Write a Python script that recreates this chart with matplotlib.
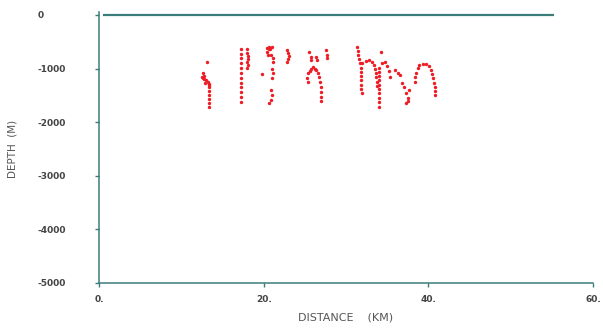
import matplotlib
matplotlib.use("Agg")
import matplotlib.pyplot as plt

# ---- data (distance km, depth m) ----
dist_a = [13.1, 12.6, 12.5, 12.6, 12.8, 13.0, 13.2, 13.4, 13.3, 13.4, 13.4, 13.4, 13.4, 13.4, 13.4, 12.7, 12.9]
depth_a = [-870, -1090, -1150, -1180, -1200, -1220, -1250, -1280, -1310, -1350, -1420, -1490, -1570, -1640, -1720, -1130, -1260]

dist_b = [17.3, 17.3, 17.3, 17.3, 17.3, 17.3, 17.3, 17.3, 17.3, 17.3, 17.3, 17.3,
          18.0, 18.0, 18.1, 18.1, 18.0, 18.1, 18.0]
depth_b = [-630, -720, -810, -900, -990, -1080, -1170, -1260, -1350, -1440, -1530, -1620,
           -640, -700, -760, -820, -880, -940, -990]

dist_c = [20.4, 20.7, 21.0, 20.4, 20.5, 20.9, 21.1, 21.1, 19.8, 21.0, 21.1, 21.0, 20.9, 21.0, 20.9, 20.7, 20.6, 20.8,
          22.8, 23.0, 23.1, 23.0, 22.8]
depth_c = [-620, -600, -600, -690, -750, -750, -810, -870, -1100, -1000, -1090, -1180, -1400, -1490, -1590, -1650, -640, -630,
           -650, -700, -770, -820, -870]

dist_d = [25.45, 25.7, 25.8, 26.3, 26.5, 27.55, 27.75, 27.7,
          25.8, 26.0, 26.2, 26.4, 26.6,
          25.6, 25.4, 25.3, 25.4,
          26.75, 26.8, 26.95, 26.95, 27.0, 27.0]
depth_d = [-690, -780, -840, -780, -840, -650, -750, -810,
           -1000, -970, -1000, -1030, -1090,
           -1050, -1090, -1180, -1250,
           -1150, -1250, -1340, -1430, -1530, -1600]

dist_e = [31.3, 31.4, 31.5, 31.6, 31.7, 31.8, 31.8, 31.8, 31.8, 31.8, 31.8, 31.9,
          32.0, 32.4, 32.8, 33.2, 33.4, 33.5, 33.6, 33.7, 33.8, 33.8,
          34.3,
          34.0, 34.0, 34.0, 34.0, 34.0, 34.0, 34.0, 34.0, 34.0, 34.0,
          34.4, 34.7, 35.0, 35.2, 35.3, 36.0, 36.3, 36.5,
          36.8, 37.0, 37.3, 37.6, 37.5, 37.3, 37.5,
          38.4, 38.4, 38.5, 38.7, 38.9, 39.3, 39.7, 40.1, 40.3,
          40.5, 40.6, 40.7, 40.8, 40.8, 40.8]
depth_e = [-600, -680, -750, -820, -900, -980, -1060, -1140, -1220, -1300, -1380, -1460,
           -900, -850, -840, -870, -935, -1000, -1080, -1160, -1250, -1330,
           -690,
           -980, -1060, -1140, -1220, -1300, -1380, -1460, -1540, -1630, -1720,
           -900, -880, -950, -1050, -1150, -1030, -1080, -1120,
           -1270, -1340, -1460, -1400, -1550, -1640, -1600,
           -1150, -1250, -1090, -990, -940, -920, -920, -950, -1030,
           -1100, -1180, -1260, -1340, -1420, -1500]

surface_x = [0.5, 55.3]
surface_y = [0, 0]

xticks = [0, 20, 40, 60]
xtick_labels = ["0.", "20.", "40.", "60."]
yticks = [0, -1000, -2000, -3000, -4000, -5000]
ytick_labels = ["0", "-1000", "-2000", "-3000", "-4000", "-5000"]

teal = "#3b7d7a"
red = "#ee1c24"

fig = plt.figure(figsize=(6.03, 3.30), dpi=100)
ax = fig.add_axes([99 / 603, 1 - 283 / 330, (593 - 99) / 603, (283 - 15) / 330])

ax.plot(surface_x, surface_y, color=teal, lw=1.6, clip_on=False, solid_capstyle="butt")

xs = dist_a + dist_b + dist_c + dist_d + dist_e
ys = depth_a + depth_b + depth_c + depth_d + depth_e
ax.scatter(xs, ys, s=6, color=red, linewidths=0, zorder=3)

ax.set_xlim(0, 60)
ax.set_ylim(-5000, 0)
for s in ["top", "right"]:
    ax.spines[s].set_visible(False)
for s in ["left", "bottom"]:
    ax.spines[s].set_color(teal)
    ax.spines[s].set_linewidth(1.1)
ax.spines["left"].set_bounds(-5000, 60)

ax.set_xticks(xticks)
ax.set_xticklabels(xtick_labels)
ax.set_yticks(yticks)
ax.set_yticklabels(ytick_labels)
ax.tick_params(axis="both", colors=teal, length=3, width=1.0, labelcolor="#444444", labelsize=6.5)
ax.tick_params(axis="y", pad=41)
ax.tick_params(axis="x", pad=6)
for lab in ax.get_yticklabels():
    lab.set_horizontalalignment("left")
    lab.set_fontweight("bold")
for lab in ax.get_xticklabels():
    lab.set_fontweight("bold")

ax.set_xlabel("DISTANCE    (KM)", fontsize=8, color="#555555", labelpad=6)
ax.set_ylabel("DEPTH  (M)", fontsize=7.5, color="#555555", labelpad=8)
ax.yaxis.set_label_coords(-0.165, 0.5)

fig.savefig("out.png", dpi=100)
